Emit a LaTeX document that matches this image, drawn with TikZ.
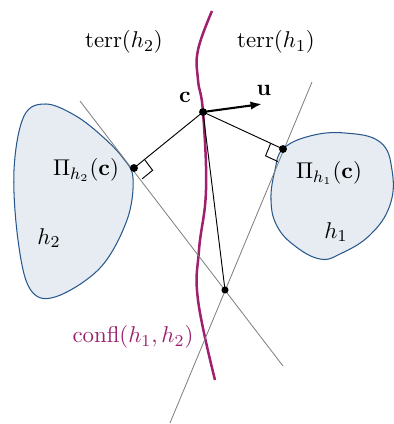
\documentclass[tikz,border=0pt]{standalone}
\usepackage{amsmath}
\usetikzlibrary{calc, arrows.meta}
\definecolor{conflcol}{RGB}{158,32,110}
\definecolor{regfill}{RGB}{230,236,242}
\definecolor{regline}{RGB}{38,88,140}

\begin{document}
\begin{tikzpicture}[x=0.48pt,y=-0.48pt,
    every node/.style={font=\fontsize{10.8}{13}\selectfont},
    region/.style={draw=regline,fill=regfill,line width=0.5pt},
    tangent/.style={gray,line width=0.4pt},
    proj/.style={black,line width=0.45pt},
    pt/.style={fill=black}]
    \useasboundingbox (0,0) rectangle (394,424);

    % points
    \coordinate (c) at (203,112);
    \coordinate (ph2) at (134,168);
    \coordinate (ph1) at (283,149);
    \coordinate (x) at (225,290);
    \coordinate (u) at (262,104);
    \coordinate (t2a) at (80,101);
    \coordinate (t2b) at (283,366);
    \coordinate (t1a) at (312,82);
    \coordinate (t1b) at (170,423);

    % regions
    \draw[region] plot[smooth cycle,tension=0.6] coordinates {
        (46,104) (76,116) (103,137) (123,158) (133,178) (127,220) (100,268)
        (55,297) (30,289) (18,240) (14,170) (24,116)};
    \draw[region] plot[smooth cycle,tension=0.7] coordinates {
        (283,149) (310,136) (345,133) (380,142) (392,170) (390,205)
        (370,235) (340,254) (320,259) (295,246) (277,226) (271,200) (275,170)};

    % conflict curve
    \draw[conflcol,line width=1.2pt] plot[smooth,tension=0.7] coordinates {
        (212,11) (198,50) (198,80) (203,112) (206,190) (199,250)
        (198,300) (215,380)};

    % tangent lines
    \draw[tangent] (t2a) -- (t2b);
    \draw[tangent] (t1a) -- (t1b);

    % projections
    \draw[proj] (c) -- (ph2);
    \draw[proj] (c) -- (ph1);
    \draw[proj] (c) -- (x);

    % right angles
    \draw[proj] ($(ph2)!6.5pt!(c)$) -- ($($(ph2)!6.5pt!(c)$)+($(ph2)!6.5pt!(x)$)-(ph2)$)
        -- ($(ph2)!6.5pt!(x)$);
    \draw[proj] ($(ph1)!6.5pt!(c)$) -- ($($(ph1)!6.5pt!(c)$)+($(ph1)!6.5pt!(x)$)-(ph1)$)
        -- ($(ph1)!6.5pt!(x)$);

    \draw[-{Latex[length=5.5pt,width=4pt]},line width=1pt] (c) -- (u);

    \fill[pt] (c) circle (1.9pt);
    \fill[pt] (ph2) circle (1.9pt);
    \fill[pt] (ph1) circle (1.9pt);
    \fill[pt] (x) circle (1.7pt);

    % labels
    \node at (124,42) {$\mathrm{terr}(h_2)$};
    \node at (276,42) {$\mathrm{terr}(h_1)$};
    \node at (185,97) {$\mathbf{c}$};
    \node at (264,90) {$\mathbf{u}$};
    \node at (86,170) {$\Pi_{h_2}(\mathbf{c})$};
    \node at (49,238) {$h_2$};
    \node at (329,173) {$\Pi_{h_1}(\mathbf{c})$};
    \node at (336,232) {$h_1$};
    \node[conflcol] at (133,337) {$\mathrm{confl}(h_1,h_2)$};
\end{tikzpicture}
\end{document}
